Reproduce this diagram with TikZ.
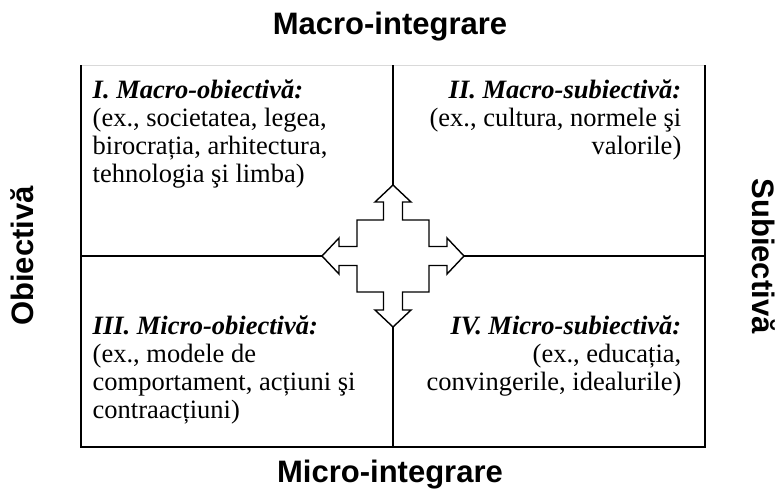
\documentclass[tikz,border=0pt]{standalone}
\usepackage{fontspec}
\setmainfont{Liberation Serif}
\newfontfamily\headfont{Liberation Sans}
\tikzset{every picture/.style={line width=1.4pt}}
\tikzset{cell/.style={inner sep=0pt, font=\fontsize{26.5}{28}\selectfont}}
\tikzset{axis/.style={inner sep=0pt, font=\headfont\bfseries\fontsize{31}{36}\selectfont}}

\begin{document}
\begin{tikzpicture}[x=1pt, y=-1pt]
\useasboundingbox (0,0) rectangle (778,495);
\coordinate (nw) at (81,65);
\coordinate (ne) at (705,65);
\coordinate (sw) at (81,447);
\coordinate (se) at (705,447);
\coordinate (n) at (393,65);
\coordinate (s) at (393,447);
\coordinate (w) at (81,256);
\coordinate (e) at (705,256);
\coordinate (c) at (393,256);
\coordinate (tn) at (393,185);
\coordinate (ts) at (393,327);
\coordinate (tw) at (322,256);
\coordinate (te) at (464,256);
\draw[gray!30, line width=0.8pt] (nw) -- (ne);
\draw (nw) -- (sw) -- (se) -- (ne);
\draw (n) -- (tn);
\draw (ts) -- (s);
\draw (w) -- (tw);
\draw (te) -- (e);
\draw[shift={(c)}] (0,-71) -- (18,-54) -- (9.5,-54) -- (9.5,-36) -- (36,-36) -- (36,-9.5) -- (54,-9.5) -- (54,-18) -- (71,0) -- (54,18) -- (54,9.5) -- (36,9.5) -- (36,36) -- (9.5,36) -- (9.5,54) -- (18,54) -- (0,71) -- (-18,54) -- (-9.5,54) -- (-9.5,36) -- (-36,36) -- (-36,9.5) -- (-54,9.5) -- (-54,18) -- (-71,0) -- (-54,-18) -- (-54,-9.5) -- (-36,-9.5) -- (-36,-36) -- (-9.5,-36) -- (-9.5,-54) -- (-18,-54) -- cycle;
\node[cell, anchor=north west, align=left] (q1) at (92,79) {\textbf{\textit{I. Macro-obiectivă:}}\\(ex., societatea, legea,\\birocrația, arhitectura,\\tehnologia şi limba)};
\node[cell, anchor=north east, align=right] (q2) at (682,79) {\textbf{\textit{II. Macro-subiectivă:}}\\(ex., cultura, normele şi\\valorile)};
\node[cell, anchor=north west, align=left] (q3) at (92,315) {\textbf{\textit{III. Micro-obiectivă:}}\\(ex., modele de\\comportament, acțiuni şi\\contraacțiuni)};
\node[cell, anchor=north east, align=right] (q4) at (682,315) {\textbf{\textit{IV. Micro-subiectivă:}}\\(ex., educația,\\convingerile, idealurile)};
\node[axis, anchor=base] (top) at (390,35) {Macro-integrare};
\node[axis, anchor=base] (bot) at (390,482) {Micro-integrare};
\node[axis, anchor=base, rotate=90] (left) at (33,256) {Obiectivă};
\node[axis, anchor=base, rotate=-90] (right) at (752,256) {Subiectivă};
\end{tikzpicture}
\end{document}
